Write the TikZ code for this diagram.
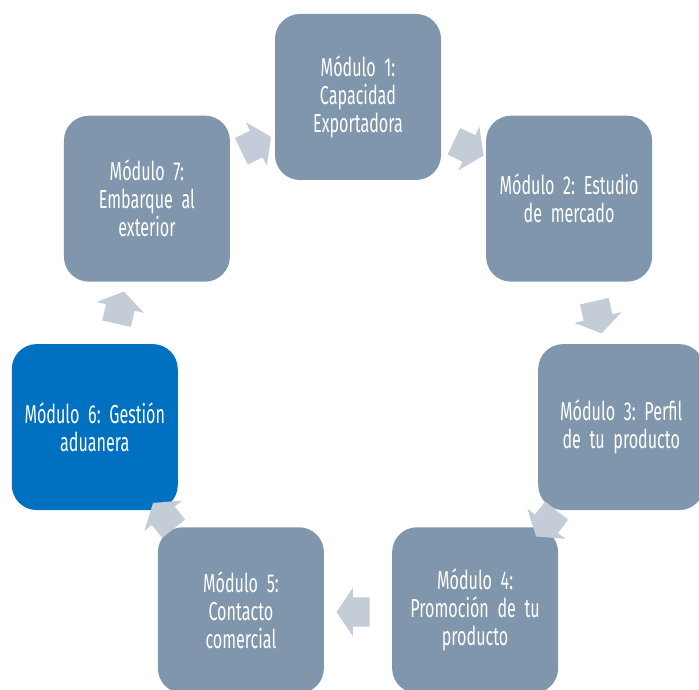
\documentclass[tikz,border=0pt]{standalone}
\usepackage{fontspec}
\setmainfont{Fira Sans}[FakeStretch=0.62]
\usetikzlibrary{shapes.arrows}
\frenchspacing

\definecolor{modgris}{HTML}{7F96AD}
\definecolor{modazul}{HTML}{0070C0}
\definecolor{flecha}{HTML}{C4CCD7}

\newcommand{\letramod}{\fontsize{26}{28}\selectfont\spaceskip=4.5pt plus 1pt\relax}

\begin{document}
\begin{tikzpicture}[x=1pt,y=1pt,
    modulo/.style={rectangle, rounded corners=25pt, fill=modgris, minimum size=166pt,
        text width=150pt, align=center, text=white, inner sep=0pt, font=\letramod},
    flechita/.style={single arrow, fill=flecha, inner xsep=0pt, inner ysep=14.5pt,
        minimum height=33pt, single arrow head extend=9.5pt, single arrow tip angle=112}]

    \useasboundingbox (0,0) rectangle (699,690);
    \clip (0,0) rectangle (699,690);

    % centre of the cycle
    \coordinate (c) at (358,323);

    % these are the modules
    \node[modulo] (m1) at ([shift={(90:270)}]c) {Módulo 1:\\Capacidad\\Exportadora};
    \node[modulo] (m2) at ([shift={(38.57:270)}]c) {Módulo 2: Estudio\\de mercado};
    \node[modulo] (m3) at ([shift={(-12.86:270)}]c) {Módulo 3: Perfil\\de tu producto};
    \node[modulo] (m4) at ([shift={(-64.29:270)}]c) {Módulo 4:\\Promoción de tu\\producto};
    \node[modulo] (m5) at ([shift={(-115.71:270)}]c) {Módulo 5:\\Contacto\\comercial};
    \node[modulo, fill=modazul] (m6) at ([shift={(-167.14:270)}]c) {Módulo 6: Gestión\\aduanera};
    \node[modulo] (m7) at ([shift={(141.43:270)}]c) {Módulo 7:\\Embarque al\\exterior};

    % arrows between modules
    \node[flechita, rotate=-25.71] (f12) at ([shift={(64.29:245)}]c) {};
    \node[flechita, rotate=-77.14] (f23) at ([shift={(12.86:245)}]c) {};
    \node[flechita, rotate=-128.57] (f34) at ([shift={(-38.57:245)}]c) {};
    \node[flechita, rotate=180] (f45) at ([shift={(-90:245)}]c) {};
    \node[flechita, rotate=128.57] (f56) at ([shift={(-141.43:245)}]c) {};
    \node[flechita, rotate=77.14] (f67) at ([shift={(167.14:245)}]c) {};
    \node[flechita, rotate=25.71] (f71) at ([shift={(115.71:245)}]c) {};

\end{tikzpicture}
\end{document}
